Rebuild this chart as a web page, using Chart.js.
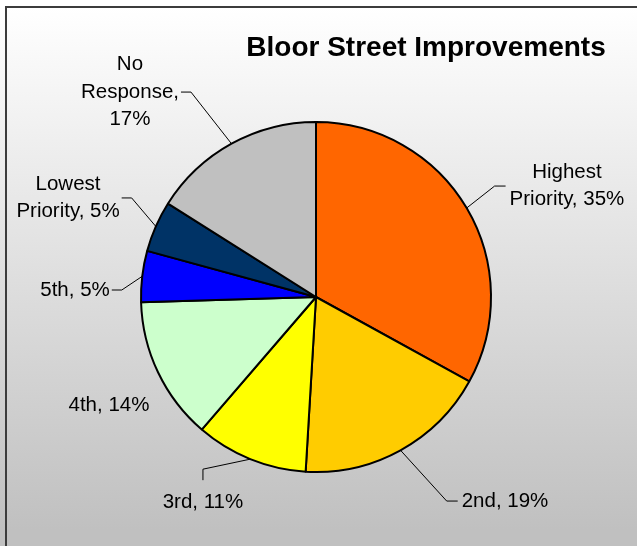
<!DOCTYPE html>
<html>
<head>
<meta charset="utf-8">
<script src="https://cdn.jsdelivr.net/npm/chart.js@4.4.1/dist/chart.umd.min.js"></script>
<style>
    html, body { margin: 0; padding: 0; background: #fff; }
    #wrap { width: 637px; height: 546px; }
</style>
</head>
<body>
<div id="wrap"><canvas id="pie" width="637" height="546"></canvas></div>
<script>
// 数据
const chartTitle = 'Bloor Street Improvements';
const categories = ['Highest Priority', '2nd', '3rd', '4th', '5th', 'Lowest Priority', 'No Response'];
const percents = [35, 19, 11, 14, 5, 5, 17];
const sliceColors = ['#ff6600', '#ffcc00', '#ffff00', '#ccffcc', '#0000ff', '#003366', '#c0c0c0'];

// 标签布局 (相对圆心, 单位为半径) 和引线连接方向
const labelLayout = [
    { x: 1.434, y: -0.634, side: 'left' },
    { x: 1.080, y: 1.166, side: 'left' },
    { x: -0.646, y: 1.171, side: 'top' },
    { x: -1.183, y: 0.617, side: 'none' },
    { x: -1.377, y: -0.040, side: 'right' },
    { x: -1.417, y: -0.566, side: 'right' },
    { x: -1.063, y: -1.171, side: 'right' }
];

const FONT = '"Liberation Sans", Arial, sans-serif';

// 背景渐变和边框
const backdrop = {
    id: 'backdrop',
    beforeDraw(chart) {
        const ctx = chart.ctx;
        const g = ctx.createLinearGradient(0, 7, 0, 530);
        g.addColorStop(0, '#ffffff');
        g.addColorStop(1, '#c0c0c0');
        ctx.save();
        ctx.fillStyle = g;
        ctx.fillRect(0, 0, chart.width, chart.height);
        ctx.strokeStyle = '#3c3c3c';
        ctx.lineWidth = 2;
        ctx.beginPath();
        ctx.moveTo(6, chart.height + 2);
        ctx.lineTo(6, 7);
        ctx.lineTo(chart.width + 2, 7);
        ctx.stroke();
        ctx.restore();
    }
};

function wrapText(ctx, text, maxWidth) {
    const words = text.split(' ');
    const lines = [];
    let line = '';
    words.forEach(w => {
        const test = line ? line + ' ' + w : w;
        if (line && ctx.measureText(test).width > maxWidth) {
            lines.push(line);
            line = w;
        } else {
            line = test;
        }
    });
    if (line) lines.push(line);
    return lines;
}

// 数据标签和引线
const sliceLabels = {
    id: 'sliceLabels',
    afterDraw(chart) {
        const ctx = chart.ctx;
        const arcs = chart.getDatasetMeta(0).data;
        const lineH = 27.5;
        ctx.save();
        ctx.font = '20.5px ' + FONT;
        ctx.textAlign = 'center';
        ctx.textBaseline = 'middle';
        arcs.forEach((arc, i) => {
            const { x, y, outerRadius, startAngle, endAngle } = arc.getProps(['x', 'y', 'outerRadius', 'startAngle', 'endAngle'], true);
            const lay = labelLayout[i];
            const cx = x + lay.x * outerRadius;
            const cy = y + lay.y * outerRadius;
            const lines = wrapText(ctx, categories[i] + ', ' + percents[i] + '%', 120);
            const w = Math.max(...lines.map(l => ctx.measureText(l).width));
            const h = lines.length * lineH;

            ctx.fillStyle = '#000';
            lines.forEach((l, k) => {
                ctx.fillText(l, cx, cy - h / 2 + lineH * (k + 0.5));
            });

            if (lay.side === 'none') return;
            const mid = (startAngle + endAngle) / 2;
            const ex = x + Math.cos(mid) * outerRadius;
            const ey = y + Math.sin(mid) * outerRadius;
            let tx, ty, bx, by;
            if (lay.side === 'left') {
                tx = cx - w / 2 - 4; ty = cy; bx = tx - 11; by = ty;
            } else if (lay.side === 'right') {
                tx = cx + w / 2 + 2; ty = cy; bx = tx + 10; by = ty;
            } else {
                tx = cx; ty = cy - h / 2 - 8; bx = tx; by = ty - 11;
            }
            ctx.strokeStyle = '#000';
            ctx.lineWidth = 1;
            ctx.beginPath();
            ctx.moveTo(ex, ey);
            ctx.lineTo(bx, by);
            ctx.lineTo(tx, ty);
            ctx.stroke();
        });

        // 标题
        ctx.font = 'bold 28px ' + FONT;
        ctx.fillText(chartTitle, 426, 48);
        ctx.restore();
    }
};

new Chart(document.getElementById('pie'), {
    type: 'pie',
    data: {
        labels: categories,
        datasets: [{
            data: percents,
            backgroundColor: sliceColors,
            borderColor: '#000',
            borderWidth: 2
        }]
    },
    options: {
        responsive: false,
        animation: false,
        layout: { padding: { top: 121, bottom: 73, left: 140, right: 145 } },
        plugins: {
            legend: { display: false },
            tooltip: { enabled: false },
            title: { display: false }
        }
    },
    plugins: [backdrop, sliceLabels]
});
</script>
</body>
</html>
